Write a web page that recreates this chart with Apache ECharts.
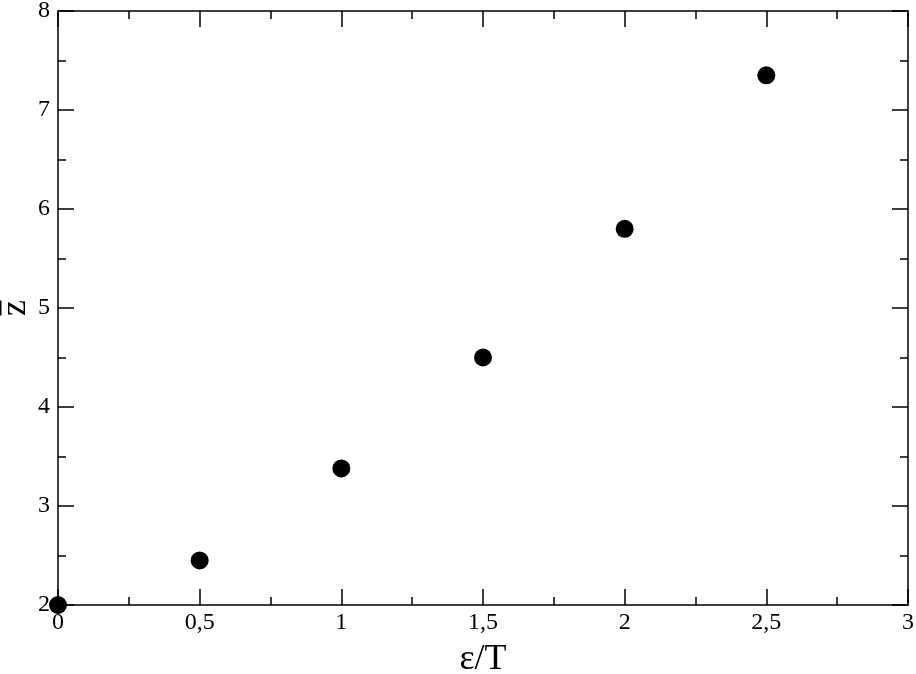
<!DOCTYPE html>
<html><head><meta charset="utf-8">
<script src="https://cdn.jsdelivr.net/npm/echarts@6/dist/echarts.min.js"></script>
<style>html,body{margin:0;padding:0;background:#fff}#c{width:916px;height:674px}</style>
</head><body><div id="c"></div>
<script>
const xValues = [0, 0.5, 1, 1.5, 2, 2.5];
const zValues = [2.0, 2.45, 3.38, 4.5, 5.8, 7.35];
const xTitle = 'ε/T';
const yTitle = 'z';

const fmt = v => String(v).replace('.', ',');
const font = 'Liberation Serif';
const tickBase = {show: true, inside: true, length: 16, lineStyle: {color: '#000', width: 1.5}};
const minorBase = {show: true, splitNumber: 2, length: 8, lineStyle: {color: '#000', width: 1.5}};
const lineBase = {show: true, onZero: false, lineStyle: {color: '#000', width: 1.5}};

const chart = echarts.init(document.getElementById('c'));
chart.setOption({
  backgroundColor: '#fff',
  animation: false,
  grid: {left: 58, right: 8, top: 11, bottom: 69, containLabel: false, outerBoundsMode: 'none'},
  xAxis: [{
    type: 'value', min: 0, max: 3, interval: 0.5, position: 'bottom',
    axisLine: lineBase, axisTick: tickBase, minorTick: minorBase,
    splitLine: {show: false}, minorSplitLine: {show: false},
    axisLabel: {formatter: fmt, color: '#000', fontFamily: font, fontSize: 24, margin: 6, showMinLabel: true, showMaxLabel: true},
    name: xTitle, nameLocation: 'middle', nameGap: 37, nameMoveOverlap: false,
    nameTextStyle: {fontFamily: font, fontSize: 36, color: '#000'}
  }, {
    type: 'value', min: 0, max: 3, interval: 0.5, position: 'top',
    axisLine: lineBase, axisTick: tickBase, minorTick: minorBase,
    splitLine: {show: false}, axisLabel: {show: false}
  }],
  yAxis: [{
    type: 'value', min: 2, max: 8, interval: 1, position: 'left',
    axisLine: lineBase, axisTick: tickBase, minorTick: minorBase,
    splitLine: {show: false}, minorSplitLine: {show: false},
    axisLabel: {formatter: fmt, color: '#000', fontFamily: font, fontSize: 24, margin: 8, align: 'right', verticalAlign: 'middle', showMinLabel: true, showMaxLabel: true, hideOverlap: false},
    name: '{o| }\n{z|' + yTitle + '}', nameLocation: 'middle', nameGap: 30, nameRotate: 90, nameMoveOverlap: false,
    nameTextStyle: {
      fontFamily: font, fontSize: 36, color: '#000', align: 'center',
      rich: {
        o: {width: 15, height: 3, lineHeight: 8, backgroundColor: '#000', align: 'center'},
        z: {fontFamily: font, fontSize: 36, lineHeight: 24, color: '#000', align: 'center'}
      }
    }
  }, {
    type: 'value', min: 2, max: 8, interval: 1, position: 'right',
    axisLine: lineBase, axisTick: tickBase, minorTick: minorBase,
    splitLine: {show: false}, axisLabel: {show: false}
  }],
  series: [{
    type: 'scatter', xAxisIndex: 0, yAxisIndex: 0, clip: false,
    symbol: 'circle', symbolSize: 18, z: 10,
    itemStyle: {color: '#000', opacity: 1},
    data: xValues.map((x, i) => [x, zValues[i]])
  }]
});
</script></body></html>
